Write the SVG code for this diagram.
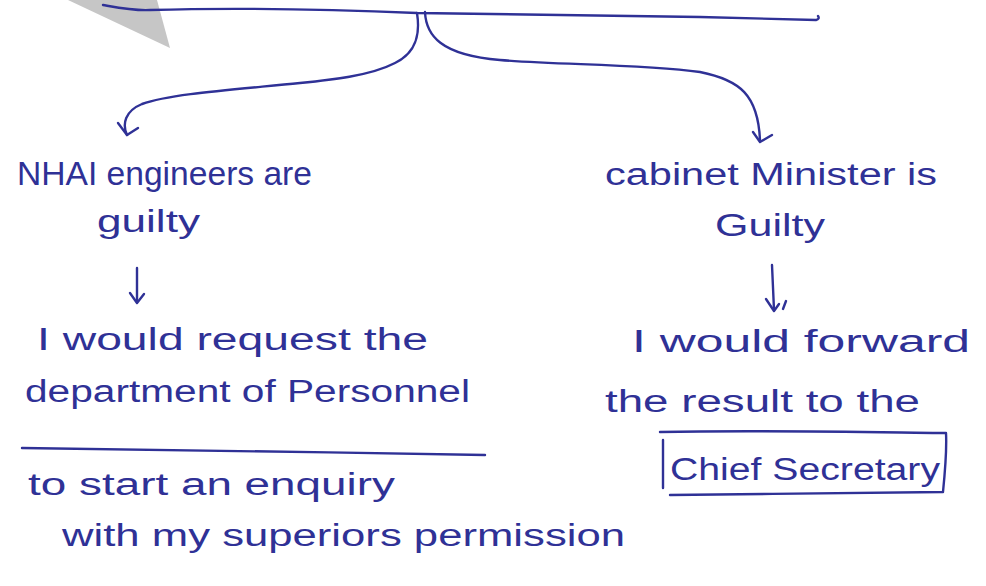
<svg xmlns="http://www.w3.org/2000/svg" width="986" height="586" viewBox="0 0 986 586">
  <style>
    .ink { fill: none; stroke: #2f3196; stroke-width: 2.4; stroke-linecap: round; stroke-linejoin: round; }
    .hand { font-family: "Liberation Sans", "DejaVu Sans", sans-serif; fill: #2f3196; font-size: 31px; }
    .big { font-size: 34px; }
  </style>

  <rect width="986" height="586" fill="#ffffff"/>

  <!-- grey corner wedge -->
  <polygon points="68,0 157,0 170,48" fill="#c6c6c6"/>

  <!-- connectors -->
  <g id="connectors">
    <!-- top bar -->
    <path class="ink" d="M103,5 C120,8 135,11 150,10 C220,8 300,8 417,13 C500,14 600,15 700,17 L816,20 Q820,19 818,16"/>
    <!-- branch to left outcome -->
    <path class="ink" d="M417,13 C420,32 418,52 395,63 C370,76 330,80 300,83 C230,90 170,94 142,104 C125,111 122,124 127,135"/>
    <path class="ink" d="M118,123 L127,135 L138,128"/>
    <!-- branch to right outcome -->
    <path class="ink" d="M425,12 C426,35 440,55 500,60 C560,65 640,64 700,72 C740,80 758,95 760,140"/>
    <path class="ink" d="M753,132 L760,142 L772,135"/>
    <!-- guilty -> request -->
    <path class="ink" d="M137,268 L137,302"/>
    <path class="ink" d="M130,293 L137,303 L144,294"/>
    <!-- Guilty -> forward -->
    <path class="ink" d="M772,265 L774,310"/>
    <path class="ink" d="M766,299 L774,311 L779,304"/>
    <path class="ink" d="M786,301 L783,309"/>
  </g>

  <!-- left outcome -->
  <g id="node-nhai">
    <text class="hand big" x="17" y="185" textLength="295" lengthAdjust="spacingAndGlyphs">NHAI engineers are</text>
    <text class="hand" x="97" y="232" textLength="103" lengthAdjust="spacingAndGlyphs">guilty</text>
  </g>

  <g id="node-request">
    <text class="hand" x="37" y="350" textLength="391" lengthAdjust="spacingAndGlyphs">I would request the</text>
    <text class="hand" x="25" y="402" textLength="445" lengthAdjust="spacingAndGlyphs">department of Personnel</text>
    <path class="ink" d="M22,448 C150,450 330,452 485,455"/>
    <text class="hand" x="28" y="495" textLength="367" lengthAdjust="spacingAndGlyphs">to start an enquiry</text>
    <text class="hand" x="62" y="546" textLength="563" lengthAdjust="spacingAndGlyphs">with my superiors permission</text>
  </g>

  <!-- right outcome -->
  <g id="node-minister">
    <text class="hand" x="605" y="185" textLength="332" lengthAdjust="spacingAndGlyphs">cabinet Minister is</text>
    <text class="hand" x="715" y="236" textLength="110" lengthAdjust="spacingAndGlyphs">Guilty</text>
  </g>

  <g id="node-forward">
    <text class="hand" x="632" y="352" textLength="338" lengthAdjust="spacingAndGlyphs">I would forward</text>
    <text class="hand" x="605" y="412" textLength="315" lengthAdjust="spacingAndGlyphs">the result to the</text>
  </g>

  <g id="node-chief-secretary">
    <path class="ink" d="M660,432 C760,430 860,432 946,433 C947,452 945,472 943,492 M670,495 C760,494 860,493 943,492 M663,440 L663,488"/>
    <text class="hand" x="670" y="480" textLength="270" lengthAdjust="spacingAndGlyphs">Chief Secretary</text>
  </g>
</svg>
